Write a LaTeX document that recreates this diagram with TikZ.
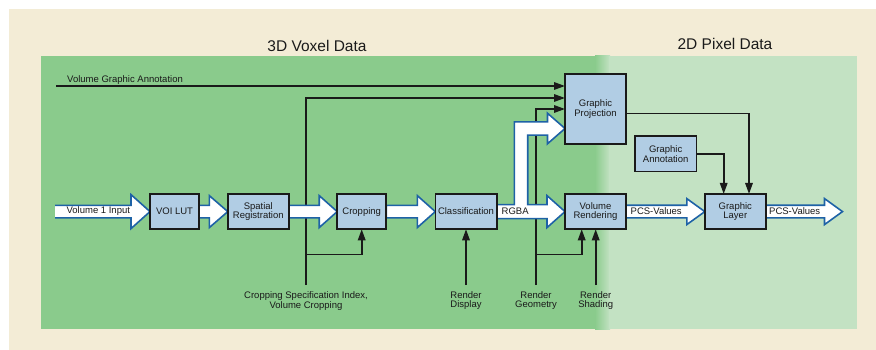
\documentclass[tikz,border=0pt]{standalone}
\usepackage{fontspec}
\setmainfont{Liberation Sans}
\usetikzlibrary{arrows.meta,calc}
\definecolor{beige}{HTML}{F3ECD6}
\definecolor{dgreen}{HTML}{8ACB8C}
\definecolor{lgreen}{HTML}{C3E2C3}
\definecolor{boxblue}{HTML}{B1CDE4}
\definecolor{arrblue}{HTML}{1E62A6}
\definecolor{ink}{HTML}{1A1A1A}
\newcommand\diaglbl{\fontsize{9.5}{8.6}\selectfont}
\newcommand\diagtitle{\fontsize{15.5}{18}\selectfont}
\pgfdeclarelayer{bglayer}
\pgfdeclarelayer{linelayer}
\pgfdeclarelayer{fatlayer}
\pgfsetlayers{bglayer,linelayer,fatlayer,main}
% from, to, half shaft, half head, head length
\newcommand\fatarr[5]{%
  \path[fat] let \p1=(#1),\p2=(#2) in
    (\x1,\y1+#3) -- (\x2-#5,\y1+#3) -- (\x2-#5,\y1+#4) -- (\x2,\y1)
    -- (\x2-#5,\y1-#4) -- (\x2-#5,\y1-#3) -- (\x1,\y1-#3) -- cycle;}
\begin{document}
\begin{tikzpicture}[x=1pt,y=-1pt,
  box/.style={draw=ink,fill=boxblue,line width=1.6pt,inner sep=0pt,outer sep=0pt,
    minimum height=35.3pt,align=center,font=\diaglbl,text=ink},
  lbl/.style={font=\diaglbl,text=ink,inner sep=0pt,align=center},
  tarrow/.style={draw=ink,line width=1.6pt,-{Triangle[length=11pt,width=7.5pt]}},
  fat/.style={fill=white,draw=arrblue,line width=1.6pt,line join=miter}]
\useasboundingbox (0,0) rectangle (876,350);

% nodes
\node[box,minimum width=49pt] (voi) at (174.5,211.6) {VOI LUT};
\node[box,minimum width=61pt] (spat) at (258.3,211.6) {Spatial\\Registration};
\node[box,minimum width=49pt] (crop) at (361.7,211.6) {Cropping};
\node[box,minimum width=61.4pt] (class) at (466,211.6) {Classification};
\node[box,minimum width=61pt] (vr) at (595.5,211.6) {Volume\\Rendering};
\node[box,minimum width=61pt,minimum height=70pt] (gp) at (595.5,109) {Graphic\\Projection};
\node[box,minimum width=61.5pt] (ga) at (665.7,153.8) {Graphic\\Annotation};
\node[box,minimum width=61pt] (gl) at (735.3,211.6) {Graphic\\Layer};

\coordinate (in) at (55,211.6);
\coordinate (out) at (842.5,211.6);
\coordinate (vga) at (56,86);
\coordinate (cs) at (306,285);
\coordinate (csj) at (306,254.3);
\coordinate (rd) at (466,285);
\coordinate (rg) at (536,285);
\coordinate (rgj) at (536,254.3);
\coordinate (rs) at (595.7,285);
\coordinate (rgbax) at (521,128.5);

% backgrounds
\begin{pgfonlayer}{bglayer}
  \fill[beige] (9,9) rectangle (876,350);
  \fill[dgreen] (41,56) rectangle (596,329);
  \fill[left color=dgreen,right color=lgreen] (595,56) rectangle (610,329);
  \fill[lgreen] (609,56) rectangle (857,329);
\end{pgfonlayer}

% thin connectors
\begin{pgfonlayer}{linelayer}
  \draw[tarrow] (vga) -- (vga -| gp.west);
  \draw[tarrow] (cs) |- ($(gp.west)+(0,-11)$);
  \draw[tarrow] (csj) -| (crop.south);
  \draw[tarrow] (rg) |- (gp.west);
  \draw[tarrow] (rgj) -| ($(vr.south)+(-13.8,0)$);
  \draw[tarrow] (rs) -- (rs |- vr.south);
  \draw[tarrow] (rd) -- (class.south);
  \draw[tarrow] ($(gp.east)+(0,4.5)$) -| ($(gl.north)+(13.7,0)$);
  \draw[tarrow] (ga.east) -| ($(gl.north)+(-11.6,0)$);
\end{pgfonlayer}

% block arrows
\begin{pgfonlayer}{fatlayer}
  \path[fat] let \p1=(in),\p2=(voi.west) in
    (\x1,\y1+6.2pt) -- (\x2-19pt,\y1+6.2pt) -- (\x2-19pt,\y1+17pt) -- (\x2,\y1)
    -- (\x2-19pt,\y1-17pt) -- (\x2-19pt,\y1-6.2pt) -- (\x1,\y1-6.2pt);
  \fatarr{voi.east}{spat.west}{6.2pt}{16pt}{18.5pt}
  \fatarr{spat.east}{crop.west}{6.2pt}{16pt}{18pt}
  \fatarr{crop.east}{class.west}{6.2pt}{16pt}{18pt}
  \path[fat] let \p1=(class.east),\p2=(vr.west),\p3=(gp.west|-rgbax),\p4=(rgbax) in
    (\x1,\y1+7pt) -- (\x4-6.7pt,\y1+7pt) -- (\x4-6.7pt,\y3+6.6pt)
    -- (\x3-17.5pt,\y3+6.6pt) -- (\x3-17.5pt,\y3+15.3pt) -- (\x3,\y3)
    -- (\x3-17.5pt,\y3-15.3pt) -- (\x3-17.5pt,\y3-6.6pt) -- (\x4+6.7pt,\y3-6.6pt)
    -- (\x4+6.7pt,\y1+7pt) -- (\x2-18pt,\y1+7pt) -- (\x2-18pt,\y1+16pt) -- (\x2,\y1)
    -- (\x2-18pt,\y1-16pt) -- (\x2-18pt,\y1-7pt) -- (\x1,\y1-7pt) -- cycle;
  \fatarr{vr.east}{gl.west}{6.3pt}{13pt}{18pt}
  \fatarr{gl.east}{out}{6.3pt}{13pt}{18pt}
\end{pgfonlayer}

% titles and labels
\node[font=\diagtitle,text=ink,anchor=base,inner sep=0pt] (t3d) at (317,51.7) {3D Voxel Data};
\node[font=\diagtitle,text=ink,anchor=base,inner sep=0pt] (t2d) at (725,49.3) {2D Pixel Data};
\node[lbl,anchor=base west] (vgal) at (67,82.7) {Volume Graphic Annotation};
\node[lbl] (vinl) at (98.3,211.3) {Volume 1 Input};
\node[lbl,anchor=west] (rgbal) at (501.5,211.4) {RGBA};
\node[lbl,anchor=west] (pcs1) at (630.5,211.4) {PCS-Values};
\node[lbl,anchor=west] (pcs2) at (769,211.4) {PCS-Values};
\node[lbl,anchor=north] (csl) at ($(cs)+(0,6.5)$) {Cropping Specification Index,\\Volume Cropping};
\node[lbl,anchor=north] (rdl) at ($(rd)+(0,6.5)$) {Render\\Display};
\node[lbl,anchor=north] (rgl) at ($(rg)+(0,6.5)$) {Render\\Geometry};
\node[lbl,anchor=north] (rsl) at ($(rs)+(0,6.5)$) {Render\\Shading};
\end{tikzpicture}
\end{document}
